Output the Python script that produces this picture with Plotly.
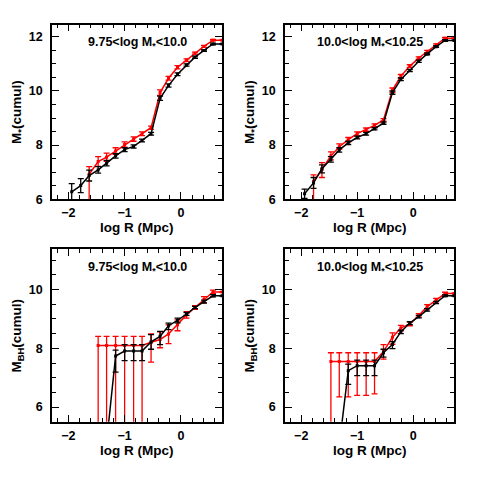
import plotly.graph_objects as go

# log R grid (Mpc) shared by all panels
LOG_R = [-1.94, -1.78, -1.63, -1.47, -1.32, -1.16, -1.00, -0.84, -0.69, -0.53,
         -0.37, -0.22, -0.06, 0.10, 0.25, 0.41, 0.57, 0.73]

# panel 1: stellar mass, 9.75 < log M* < 10.0
P1_BLACK = [6.27, 6.50, 6.87, 7.08, 7.33, 7.60, 7.83, 7.95, 8.17, 8.42,
            9.73, 10.20, 10.62, 10.96, 11.25, 11.50, 11.74, 11.74]
P1_BLACK_ERR = [0.30, 0.26, 0.20, 0.12, 0.10, 0.08, 0.07, 0.06, 0.05, 0.05,
                0.08, 0.06, 0.05, 0.04, 0.04, 0.03, 0.03, 0]
P1_RED = [6.92, 7.39, 7.55, 7.78, 8.02, 8.22, 8.42, 8.64,
          9.94, 10.47, 10.88, 11.14, 11.40, 11.65, 11.88, 11.88]
P1_RED_UP = [0.28, 0.18, 0.15, 0.12, 0.10, 0.08, 0.07, 0.06, 0.10, 0.07, 0.06, 0.05, 0.04, 0.04, 0.03, 0]
P1_RED_DN = [1.20, 0.18, 0.15, 0.12, 0.10, 0.08, 0.07, 0.06, 0.10, 0.07, 0.06, 0.05, 0.04, 0.04, 0.03, 0]

# panel 2: stellar mass, 10.0 < log M* < 10.25
P2_BLACK = [6.20, 6.60, 7.12, 7.47, 7.82, 8.08, 8.28, 8.42, 8.60, 8.81,
            9.94, 10.43, 10.76, 11.10, 11.37, 11.64, 11.87, 11.87]
P2_BLACK_ERR = [0.17, 0.20, 0.15, 0.10, 0.08, 0.06, 0.05, 0.05, 0.04, 0.04,
                0.06, 0.05, 0.04, 0.04, 0.03, 0.03, 0.03, 0]
P2_RED = [6.65, 7.10, 7.60, 7.94, 8.20, 8.42, 8.57, 8.73, 8.93,
          10.03, 10.55, 10.92, 11.22, 11.46, 11.71, 11.95, 11.95]
P2_RED_UP = [0.25, 0.25, 0.15, 0.10, 0.08, 0.07, 0.06, 0.05, 0.05, 0.08, 0.06, 0.05, 0.04, 0.04, 0.03, 0.03, 0]
P2_RED_DN = [1.00, 0.30, 0.15, 0.10, 0.08, 0.07, 0.06, 0.05, 0.05, 0.08, 0.06, 0.05, 0.04, 0.04, 0.03, 0.03, 0]

# panel 3: black hole mass, 9.75 < log M* < 10.0
P3_RED = [8.10, 8.10, 8.10, 8.10, 8.10, 8.10, 8.21, 8.30, 8.49, 8.80, 9.14, 9.39, 9.66, 9.92, 9.92]
P3_RED_UP = [0.31, 0.31, 0.31, 0.31, 0.31, 0.31, 0.28, 0.26, 0.31, 0.17, 0.11, 0.06, 0.10, 0.06, 0]
P3_RED_DN = [4.0, 4.0, 4.0, 4.0, 4.0, 4.0, 0.68, 0.28, 0.33, 0.20, 0.11, 0.06, 0.10, 0.06, 0]
P3_BLACK = [4.80, 7.74, 7.91, 7.91, 7.91, 8.22, 8.41, 8.77, 8.95, 9.17, 9.39, 9.59, 9.79, 9.79]
P3_BLACK_UP = [0.30, 0.20, 0.22, 0.22, 0.22, 0.25, 0.17, 0.09, 0.08, 0.05, 0.04, 0.05, 0.04, 0]
P3_BLACK_DN = [0.30, 0.55, 0.33, 0.33, 0.33, 0.25, 0.28, 0.13, 0.08, 0.05, 0.04, 0.05, 0.04, 0]

# panel 4: black hole mass, 10.0 < log M* < 10.25
P4_RED = [7.55, 7.55, 7.55, 7.55, 7.55, 7.55, 7.89, 8.38, 8.69, 8.83, 9.12, 9.42, 9.64, 9.87, 9.87]
P4_RED_UP = [0.30, 0.30, 0.30, 0.30, 0.30, 0.30, 0.24, 0.15, 0.09, 0.06, 0.06, 0.07, 0.06, 0.04, 0]
P4_RED_DN = [3.00, 1.20, 1.20, 1.15, 1.15, 1.10, 0.26, 0.24, 0.09, 0.06, 0.06, 0.07, 0.06, 0.04, 0]
P4_BLACK = [4.70, 7.24, 7.41, 7.41, 7.41, 7.85, 8.13, 8.56, 8.86, 9.08, 9.31, 9.56, 9.79, 9.79]
P4_BLACK_UP = [0.30, 0.22, 0.19, 0.19, 0.19, 0.12, 0.10, 0.06, 0.05, 0.04, 0.04, 0.04, 0.03, 0]
P4_BLACK_DN = [0.30, 0.47, 0.34, 0.34, 0.34, 0.15, 0.14, 0.06, 0.05, 0.04, 0.04, 0.04, 0.03, 0]

LABELS = ["9.75&lt;log M<sub>*</sub>&lt;10.0", "10.0&lt;log M<sub>*</sub>&lt;10.25"]
X_RANGE = [-2.29, 0.73]
FONT = "Liberation Sans"

# the page body puts the figure 8px in from the window corner
PAD = 8
W = H = 480 - PAD

# pixel boxes of the four panels in the window: (left, right, top, bottom)
BOXES = [(52, 222, 25, 202), (285, 454, 25, 202), (52, 222, 253, 428), (285, 454, 253, 428)]
Y_RANGES = [[6, 12.45], [6, 12.45], [5.5, 11.37], [5.5, 11.37]]
Y_TITLES = ["M<sub>*</sub>(cumul)", "M<sub>*</sub>(cumul)", "M<sub>BH</sub>(cumul)", "M<sub>BH</sub>(cumul)"]


def px(x):
    return (x - PAD) / W


def py(y):
    return 1 - (y - PAD) / H


def trace(x, y, up, dn, color, k):
    return go.Scatter(
        x=x, y=y, mode="lines+markers",
        line=dict(color=color, width=1.5),
        marker=dict(color=color, size=3, symbol="square"),
        error_y=dict(type="data", symmetric=False, array=up, arrayminus=dn,
                     color=color, thickness=1.3, width=3),
        xaxis=f"x{k}", yaxis=f"y{k}", showlegend=False,
    )


fig = go.Figure()
fig.add_trace(trace(LOG_R[2:], P1_RED, P1_RED_UP, P1_RED_DN, "red", 1))
fig.add_trace(trace(LOG_R, P1_BLACK, P1_BLACK_ERR, P1_BLACK_ERR, "black", 1))
fig.add_trace(trace(LOG_R[1:], P2_RED, P2_RED_UP, P2_RED_DN, "red", 2))
fig.add_trace(trace(LOG_R, P2_BLACK, P2_BLACK_ERR, P2_BLACK_ERR, "black", 2))
fig.add_trace(trace(LOG_R[3:], P3_RED, P3_RED_UP, P3_RED_DN, "red", 3))
fig.add_trace(trace(LOG_R[4:], P3_BLACK, P3_BLACK_UP, P3_BLACK_DN, "black", 3))
fig.add_trace(trace(LOG_R[3:], P4_RED, P4_RED_UP, P4_RED_DN, "red", 4))
fig.add_trace(trace(LOG_R[4:], P4_BLACK, P4_BLACK_UP, P4_BLACK_DN, "black", 4))

layout = dict(
    width=W, height=H, margin=dict(l=0, r=0, t=0, b=0),
    paper_bgcolor="white", plot_bgcolor="white",
    font=dict(family=FONT, color="black", size=13),
)
annotations = []
for i, (l, r, t, b) in enumerate(BOXES):
    k = i + 1
    common = dict(
        showline=True, linecolor="black", linewidth=1.5, mirror="allticks",
        ticks="inside", ticklen=7, tickwidth=1.2, tickcolor="black",
        showgrid=False, zeroline=False,
        tickfont=dict(family=FONT, size=12.5, weight="bold"),
    )
    layout[f"xaxis{k if k > 1 else ''}"] = dict(
        common, domain=[px(l), px(r)], range=X_RANGE, anchor=f"y{k}",
        tickvals=[-2, -1, 0], ticklabelstandoff=1,
        minor=dict(dtick=0.2, tick0=0, ticks="inside", ticklen=4, tickcolor="black", tickwidth=1.2),
    )
    layout[f"yaxis{k if k > 1 else ''}"] = dict(
        common, domain=[py(b), py(t)], range=Y_RANGES[i], anchor=f"x{k}",
        tick0=0, dtick=2, ticklabelstandoff=5,
        minor=dict(dtick=0.5, tick0=0, ticks="inside", ticklen=4, tickcolor="black", tickwidth=1.2),
    )
    annotations.append(dict(
        text=LABELS[i % 2], x=px((l + r) / 2), y=py(t + 19), xref="paper", yref="paper",
        xanchor="center", yanchor="middle",
        showarrow=False, font=dict(family=FONT, size=12.5, weight="bold"),
    ))
    annotations.append(dict(
        text="log R (Mpc)", x=px((l + r) / 2), y=py(b + 29), xref="paper", yref="paper",
        xanchor="center", yanchor="middle",
        showarrow=False, font=dict(family=FONT, size=13.5, weight="bold"),
    ))
    annotations.append(dict(
        text=Y_TITLES[i], x=px(l - 34), y=py((t + b) / 2), xref="paper", yref="paper",
        xanchor="center", yanchor="middle",
        showarrow=False, textangle=-90, font=dict(family=FONT, size=13.5, weight="bold"),
    ))
layout["annotations"] = annotations
fig.update_layout(**layout)

fig.write_html("out.html")
